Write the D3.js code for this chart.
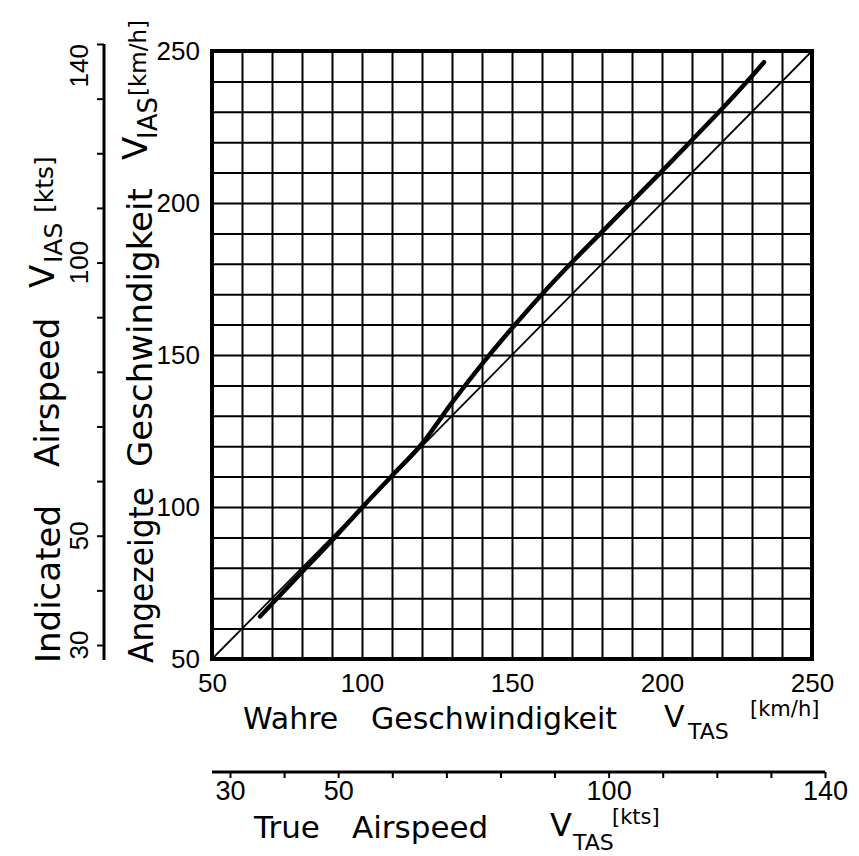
<!DOCTYPE html>
<html>
<head>
<meta charset="utf-8">
<script src="https://cdn.jsdelivr.net/npm/d3@7"></script>
<style>
  html, body { margin: 0; padding: 0; background: #fff; }
  svg { display: block; }
</style>
</head>
<body>
<svg id="chart"></svg>
<script>
/* values (km/h) */
const tas_kmh = [66, 70, 80, 90, 100, 110, 120, 130, 140, 150, 160, 170, 180, 190, 200, 210, 220, 230, 234];
const ias_kmh = [64, 68.2, 78.6, 89, 99.8, 110.3, 120.8, 134.3, 147, 158.8, 170, 180.5, 190.5, 200.5, 210.5, 220.7, 231, 241.8, 246.3];

/* reference line V_IAS = V_TAS */
const ref_tas = [50, 250];
const ref_ias = [50, 250];

/* grid and ticks */
const grid_kmh = [50, 60, 70, 80, 90, 100, 110, 120, 130, 140, 150, 160, 170, 180, 190, 200, 210, 220, 230, 240, 250];
const kmh_labels = [50, 100, 150, 200, 250];
const kts_ticks = [30, 40, 50, 60, 70, 80, 90, 100, 110, 120, 130, 140];
const kts_labels = [30, 50, 100, 140];

/* display parameters */
const chart_w = 859,
  chart_h = 856,
  plot_l = 212,
  plot_r = 812,
  plot_t = 51,
  plot_b = 659,
  num_font = "'Liberation Sans', Arial, sans-serif",
  txt_font = "'DejaVu Sans', sans-serif";

let svg = d3.select("#chart").attr("width", chart_w).attr("height", chart_h);

const x = d3.scaleLinear().domain([50, 250]).range([plot_l, plot_r]),
  y = d3.scaleLinear().domain([50, 250]).range([plot_b, plot_t]),
  kts_y = d3.scaleLinear().domain([30, 140]).range([645, 44]),
  kts_x = d3.scaleLinear().domain([30, 140]).range([230, 825]);

/* grid */
let grid_v = svg
  .append("g")
  .attr("transform", "translate(0," + plot_b + ")")
  .call(d3.axisBottom(x).tickValues(grid_kmh).tickSize(-(plot_b - plot_t)).tickFormat(""));
let grid_h = svg
  .append("g")
  .attr("transform", "translate(" + plot_l + ",0)")
  .call(d3.axisLeft(y).tickValues(grid_kmh).tickSize(-(plot_r - plot_l)).tickFormat(""));
[grid_v, grid_h].forEach(g => {
  g.select(".domain").remove();
  g.selectAll("line").attr("stroke", "#000").attr("stroke-width", 2);
});

/* frame */
svg
  .append("rect")
  .attr("x", x(50))
  .attr("y", y(250))
  .attr("width", x(250) - x(50))
  .attr("height", y(50) - y(250))
  .attr("fill", "none")
  .attr("stroke", "#000")
  .attr("stroke-width", 4);

/* lines */
const line = d3
  .line()
  .x(d => x(d[0]))
  .y(d => y(d[1]));

svg
  .append("path")
  .datum(d3.zip(ref_tas, ref_ias))
  .attr("d", line)
  .attr("fill", "none")
  .attr("stroke", "#000")
  .attr("stroke-width", 1.8);

svg
  .append("path")
  .datum(d3.zip(tas_kmh, ias_kmh))
  .attr("d", line.curve(d3.curveMonotoneX))
  .attr("fill", "none")
  .attr("stroke", "#000")
  .attr("stroke-width", 4.5)
  .attr("stroke-linecap", "round");

/* km/h axes labels */
let x_axis = svg
  .append("g")
  .attr("transform", "translate(0," + plot_b + ")")
  .call(d3.axisBottom(x).tickValues(kmh_labels).tickSize(0).tickPadding(15));
let y_axis = svg
  .append("g")
  .attr("transform", "translate(" + plot_l + ",0)")
  .call(d3.axisLeft(y).tickValues(kmh_labels).tickSize(0).tickPadding(12));
[x_axis, y_axis].forEach(g => {
  g.select(".domain").remove();
  g.attr("font-family", num_font).attr("font-size", 26);
  g.selectAll("text").attr("fill", "#000");
});

/* kts axis, bottom */
let kts_bottom = svg
  .append("g")
  .attr("transform", "translate(0,772)")
  .call(
    d3
      .axisBottom(kts_x)
      .tickValues(kts_ticks)
      .tickSize(6)
      .tickPadding(3)
      .tickFormat(d => (kts_labels.includes(d) ? d : ""))
  );
kts_bottom.select(".domain").remove();
kts_bottom.attr("font-family", num_font).attr("font-size", 27);
kts_bottom.selectAll("line").attr("stroke", "#000").attr("stroke-width", 2);
kts_bottom.selectAll("text").attr("fill", "#000");
kts_bottom
  .append("line")
  .attr("x1", 212)
  .attr("x2", kts_x(140))
  .attr("stroke", "#000")
  .attr("stroke-width", 3);

/* kts axis, left (rotated labels) */
let kts_left = svg
  .append("g")
  .attr("transform", "translate(104,0)")
  .call(d3.axisLeft(kts_y).tickValues(kts_ticks).tickSize(7).tickFormat(""));
kts_left.select(".domain").remove();
kts_left.selectAll("line").attr("stroke", "#000").attr("stroke-width", 2);
kts_left
  .append("line")
  .attr("y1", 44)
  .attr("y2", 660)
  .attr("stroke", "#000")
  .attr("stroke-width", 3);

svg
  .append("g")
  .selectAll("text")
  .data(kts_labels)
  .join("text")
  .attr("transform", d => "translate(88," + kts_y(d) + ") rotate(-90)")
  .attr("text-anchor", d => (d === 140 ? "end" : "middle"))
  .attr("font-family", num_font)
  .attr("font-size", 26)
  .text(d => d);

/* titles */
function label(px, py, str, size, rotate) {
  return svg
    .append("text")
    .attr("transform", "translate(" + px + "," + py + ")" + (rotate ? " rotate(-90)" : ""))
    .attr("font-family", txt_font)
    .attr("font-size", size)
    .attr("fill", "#000")
    .text(str);
}

// bottom, km/h
label(243, 729, "Wahre", 30);
label(371, 729, "Geschwindigkeit", 30);
label(664, 727, "V", 30);
label(688, 739, "TAS", 22);
label(750, 716, "[km/h]", 21);

// bottom, kts
label(254, 838, "True", 31);
label(352, 838, "Airspeed", 31);
label(550, 836, "V", 32);
label(573, 850, "TAS", 22);
label(612, 824, "[kts]", 21);

// left, kts
label(60, 663, "Indicated", 34, true);
label(59, 467, "Airspeed", 34, true);
label(54, 288, "V", 34, true);
label(62, 263, "IAS", 25, true);
label(53, 213, "[kts]", 25, true);

// left, km/h
label(153, 663, "Angezeigte", 34, true).attr("textLength", 176).attr("lengthAdjust", "spacingAndGlyphs");
label(152, 467, "Geschwindigkeit", 34, true);
label(147, 160, "V", 34, true);
label(157, 139, "IAS", 26, true);
label(146, 96, "[km/h]", 23, true);
</script>
</body>
</html>
